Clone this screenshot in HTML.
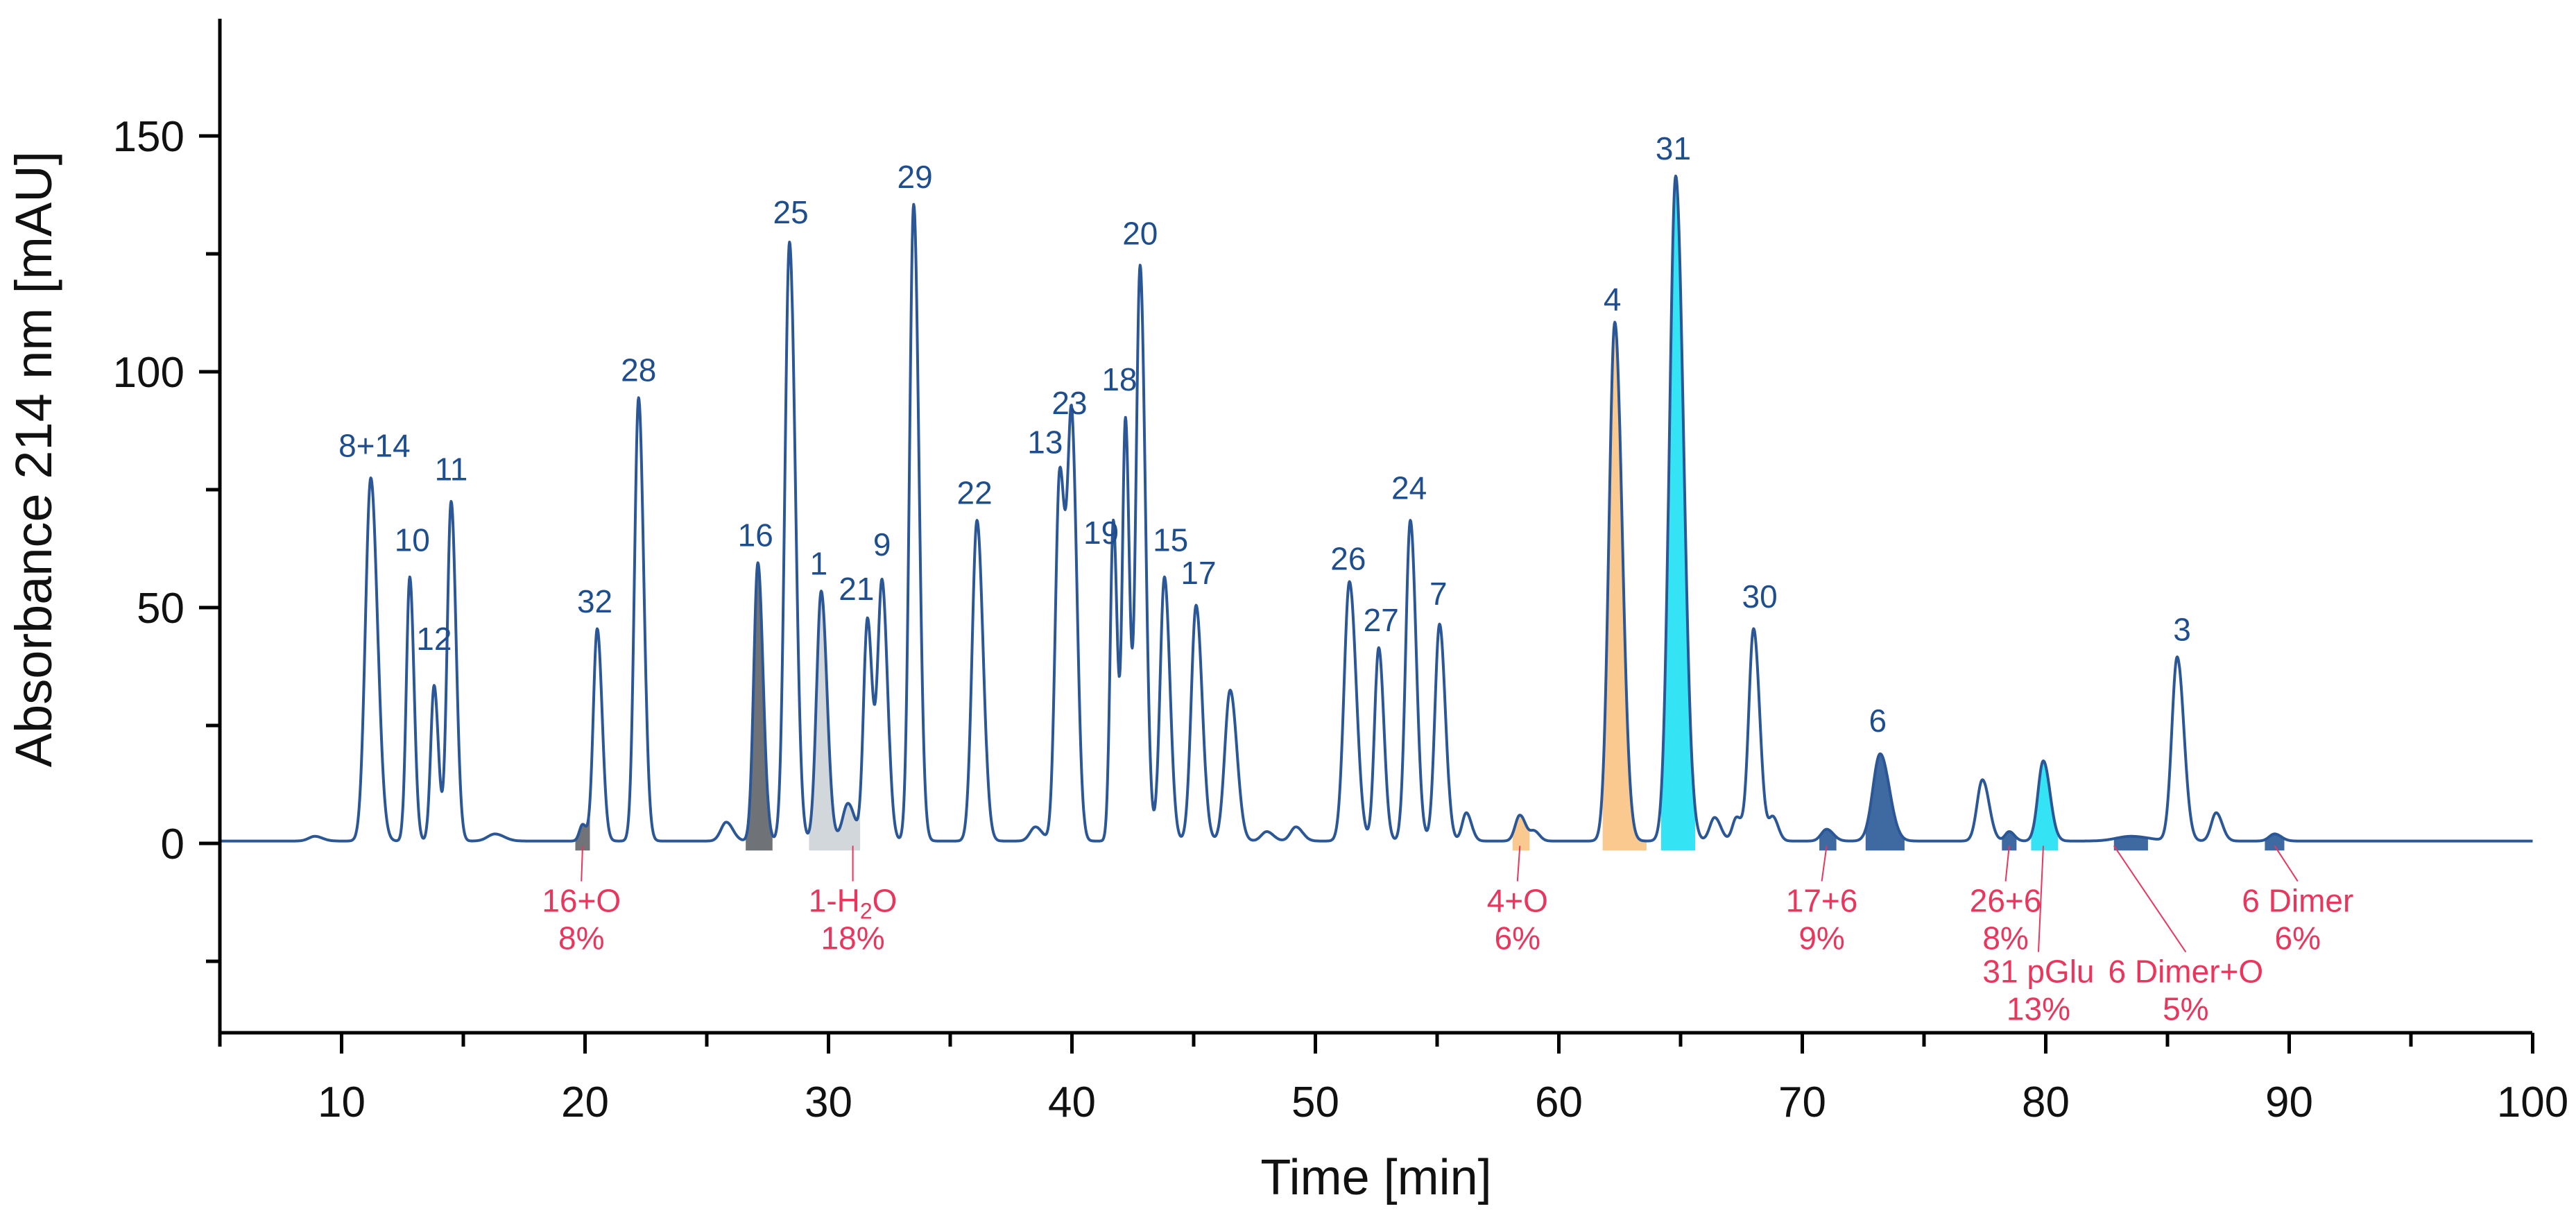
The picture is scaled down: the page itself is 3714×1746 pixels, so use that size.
<!DOCTYPE html>
<html><head><meta charset="utf-8"><style>
html,body{margin:0;padding:0;background:#fff}
svg{display:block;font-family:"Liberation Sans",Arial,sans-serif}
</style></head><body>
<svg id="chart" width="3714" height="1746" viewBox="0 0 3714 1746" xmlns="http://www.w3.org/2000/svg">
<g id="fills"></g>
<g id="trace"></g>
<g id="axes"></g>
<g id="labels"></g>
<g id="annot"></g>
</svg>
<script>
// peaks: retention time, height (mAU), sigma (min)
const peakTimes   = [8.9,11.2,12.8,13.8,14.5,16.3,19.9,20.5,22.2,25.8,27.1,28.4,29.7,30.8,31.6,32.2,33.5,36.1,38.5,39.5,40.0,41.7,42.2,42.8,43.8,45.1,46.5,48.0,49.2,51.4,52.6,53.9,55.1,56.2,58.4,59.0,62.3,64.8,66.4,67.3,68.0,68.8,71.0,73.2,77.4,78.5,79.9,83.5,85.4,87.0,89.4];
const peakHeights = [1,77,56,33,72,1.5,3.5,45,94,4,59,127,53,8,47,55,135,68,3,78,85,68,89,122,56,50,32,2,3,55,41,68,46,6,5.5,2,110,141,5,5,45,5,2.5,18.5,13,2,17,1,39,6,1.5];
const peakSigmas  = [0.25,0.22,0.14,0.14,0.16,0.3,0.13,0.16,0.17,0.22,0.17,0.19,0.19,0.22,0.16,0.18,0.17,0.2,0.22,0.18,0.17,0.13,0.13,0.17,0.18,0.2,0.22,0.22,0.22,0.22,0.17,0.19,0.19,0.17,0.19,0.17,0.24,0.26,0.2,0.17,0.2,0.17,0.22,0.3,0.22,0.17,0.22,0.6,0.22,0.2,0.22];
const xTicks = [10,20,30,40,50,60,70,80,90,100];
const yTicks = [0,50,100,150];
// label text, time, value (baseline)
const labelTexts = ["8+14","10","12","11","32","28","16","25","1","21","9","29","22","13","23","19","18","20","15","17","26","27","24","7","4","31","30","6","3"];
const labelTimes = [11.35,12.9,13.8,14.5,20.4,22.2,27.0,28.45,29.6,31.15,32.2,33.55,36.0,38.9,39.9,41.2,41.95,42.8,44.05,45.2,51.35,52.7,53.85,55.05,62.2,64.7,68.25,73.1,85.6];
const labelVals  = [82,62,41,77,49,98,63,131.5,57,51.6,61,139,72,82.7,91,63.5,96,127,62,55,58,45,73,50.6,113,145,50,23.7,43];
// shaded regions: start, end, colour
const fillStarts = [19.6,26.6,29.2,58.1,61.8,64.2,70.7,72.6,78.2,79.4,82.8,89.0];
const fillEnds   = [20.2,27.7,31.3,58.8,63.6,65.6,71.4,74.2,78.8,80.5,84.2,89.8];
const fillColors = ["#707478","#6f7378","#d2d7dc","#f9c98f","#f9c98f","#35e4f4","#3f6aa1","#3f6aa1","#3f6aa1","#35e4f4","#3f6aa1","#3f6aa1"];
// red annotations
const annLine1 = ["16+O","1-H","4+O","17+6","26+6","31 pGlu","6 Dimer+O","6 Dimer"];
const annLine2 = ["8%","18%","6%","9%","8%","13%","5%","6%"];
const annTimes = [19.85,31.0,58.3,70.8,78.35,79.7,85.75,90.35];
const annVals  = [-14.5,-14.5,-14.5,-14.5,-14.5,-29.5,-29.5,-14.5];
const annPtr   = [19.9,31.0,58.4,71.0,78.5,79.9,82.8,89.4];

const X0=317, XS=35.1, Y0=1216, YS=6.8;
const xp=t=>X0+(t-5)*XS, yp=v=>Y0-v*YS;
const NS="http://www.w3.org/2000/svg";
function mk(tag,attrs,parent){const e=document.createElementNS(NS,tag);for(const k in attrs)e.setAttribute(k,attrs[k]);parent.appendChild(e);return e;}
function sig(t){let v=0.5;for(let i=0;i<peakTimes.length;i++){const d=t-peakTimes[i];const s=peakSigmas[i]*(d>0?1.25:1);v+=peakHeights[i]*Math.exp(-d*d/(2*s*s));}return v;}

const fills=document.getElementById('fills');
for(let i=0;i<fillStarts.length;i++){
  let d=`M${xp(fillStarts[i])},${yp(-1.5)}`;
  for(let t=fillStarts[i];t<=fillEnds[i]+1e-9;t+=0.01)d+=`L${xp(t).toFixed(1)},${yp(sig(t)).toFixed(1)}`;
  d+=`L${xp(fillEnds[i])},${yp(-1.5)}Z`;
  const p=mk('path',{d:d,fill:fillColors[i]},fills);
  
  
}
const trace=document.getElementById('trace');
let d='';for(let t=5;t<=100;t+=0.02){d+=(d?'L':'M')+xp(t).toFixed(1)+','+yp(sig(t)).toFixed(1);}
const tr=mk('path',{d:d,fill:'none',stroke:'#2b5797','stroke-width':4,'stroke-linejoin':'round'},trace);



const ax=document.getElementById('axes');
mk('line',{x1:317,y1:27,x2:317,y2:1489,stroke:'#000','stroke-width':5},ax);
mk('line',{x1:315,y1:1489,x2:3651,y2:1489,stroke:'#000','stroke-width':5},ax);
for(let t=5;t<=100;t+=5){mk('line',{x1:xp(t),y1:1489,x2:xp(t),y2:1489+(t%10===0?30:20),stroke:'#000','stroke-width':5},ax);}
for(let v=-25;v<=150;v+=25){mk('line',{x1:317,y1:yp(v),x2:317-(v%50===0?30:20),y2:yp(v),stroke:'#000','stroke-width':5},ax);}
for(const t of xTicks){const e=mk('text',{x:xp(t),y:1610,'font-size':62,'text-anchor':'middle',fill:'#111'},ax);e.textContent=t;
  
  }
for(const v of yTicks){const e=mk('text',{x:266,y:yp(v)+22,'font-size':62,'text-anchor':'end',fill:'#111'},ax);e.textContent=v;
  
  }
const xt=mk('text',{x:1984,y:1722,'font-size':72,'text-anchor':'middle',fill:'#111'},ax);xt.textContent='Time [min]';


const yt=mk('text',{x:0,y:0,'font-size':74,'text-anchor':'middle',fill:'#111',transform:'translate(74,662) rotate(-90)'},ax);yt.textContent='Absorbance 214 nm [mAU]';



const lb=document.getElementById('labels');
for(let i=0;i<labelTexts.length;i++){const e=mk('text',{x:xp(labelTimes[i]),y:yp(labelVals[i]),'font-size':46,'text-anchor':'middle',fill:'#1f4e8f'},lb);e.textContent=labelTexts[i];
  
  }

const an=document.getElementById('annot');
for(let i=0;i<annLine1.length;i++){
  const tx=xp(annTimes[i]), ty=yp(annVals[i]);
  mk('line',{x1:xp(annPtr[i]),y1:yp(-0.5),x2:tx,y2:ty-44,stroke:'#e8365d','stroke-width':2},an);
  const e=mk('text',{x:tx,y:ty,'font-size':46,'text-anchor':'middle',fill:'#e8365d'},an);
  if(annLine1[i]==='1-H'){e.innerHTML='1-H<tspan font-size="32" dy="10">2</tspan><tspan dy="-10">O</tspan>';}else e.textContent=annLine1[i];
  
  
  const e2=mk('text',{x:tx,y:ty+54,'font-size':46,'text-anchor':'middle',fill:'#e8365d'},an);e2.textContent=annLine2[i];
  
  
}
</script>
</body></html>
